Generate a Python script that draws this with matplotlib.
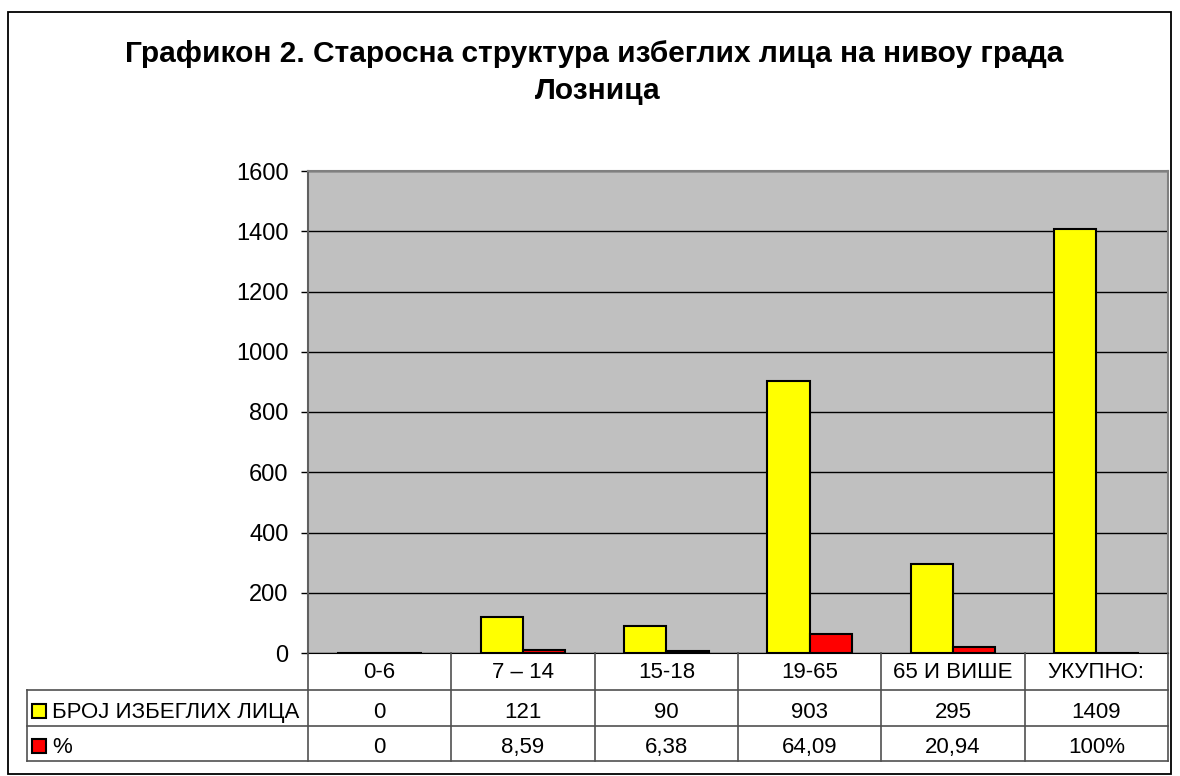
import matplotlib.pyplot as plt
from matplotlib.patches import Rectangle

plt.rcParams['font.family'] = ['Liberation Sans', 'DejaVu Sans']

categories = ['0-6', '7 – 14', '15-18', '19-65', '65 И ВИШЕ', 'УКУПНО:']
count_values = [0, 121, 90, 903, 295, 1409]
pct_values = [0, 8.59, 6.38, 64.09, 20.94, 1]
count_labels = ['0', '121', '90', '903', '295', '1409']
pct_labels = ['0', '8,59', '6,38', '64,09', '20,94', '100%']
series_names = ['БРОЈ ИЗБЕГЛИХ ЛИЦА', '%']
series_colors = ['#FFFF00', '#FF0000']
yticks = [0, 200, 400, 600, 800, 1000, 1200, 1400, 1600]

W, H = 1180, 776
fig = plt.figure(figsize=(W / 100, H / 100), dpi=100)
tc = fig.transFigure


def fx(px):
    return px / W


def fy(py):
    return 1 - py / H


# outer frame
fig.patches.append(Rectangle((fx(8), fy(774)), 1163 / W, 762 / H,
                             transform=tc, fill=False, edgecolor='black', lw=1.3))

fig.text(fx(594), fy(62), 'Графикон 2. Старосна структура избеглих лица на нивоу града',
         ha='center', va='baseline', fontsize=21.5, fontweight='bold')
fig.text(fx(598), fy(99), 'Лозница',
         ha='center', va='baseline', fontsize=21.5, fontweight='bold')

left, right, top, bottom = 308, 1168, 171, 653
ax = fig.add_axes([fx(left), fy(bottom), (right - left) / W, (bottom - top) / H])
ax.set_facecolor('#C0C0C0')

x = list(range(len(categories)))
bw = 0.295
ax.bar([i - bw / 2 for i in x], count_values, width=bw, color=series_colors[0],
       edgecolor='black', linewidth=1.5, zorder=3)
ax.bar([i + bw / 2 for i in x], pct_values, width=bw, color=series_colors[1],
       edgecolor='black', linewidth=1.5, zorder=3)

ax.set_xlim(-0.5, len(categories) - 0.5)
ax.set_ylim(0, 1600)
ax.set_yticks(yticks)
ax.set_yticklabels([str(v) for v in yticks], fontsize=17)
ax.yaxis.grid(True, color='black', lw=1, zorder=1)
ax.set_xticks([])
ax.tick_params(axis='y', length=5, width=1, pad=9, direction='out', colors='black')
for s in ['top', 'right']:
    ax.spines[s].set_color('#808080')
    ax.spines[s].set_linewidth(1.5)
ax.spines['bottom'].set_color('black')
ax.spines['left'].set_color('#606060')
ax.spines['left'].set_linewidth(1.5)

# data table under the plot
row_lines = [653, 690, 726, 761]
label_left = 27
col_edges = [left + (right - left) * i / len(categories) for i in range(len(categories) + 1)]


def line(x0, y0, x1, y1, c='#505050'):
    fig.lines.append(plt.Line2D([fx(x0), fx(x1)], [fy(y0), fy(y1)], transform=tc,
                                color=c, lw=1.2))


for yy in row_lines[1:]:
    line(label_left, yy, right, yy)
line(label_left, row_lines[1], label_left, row_lines[3])
for xx in col_edges:
    line(xx, row_lines[0], xx, row_lines[3])

baselines = [678, 718, 753]
for i, cat in enumerate(categories):
    cx = (col_edges[i] + col_edges[i + 1]) / 2
    for b, txt in zip(baselines, [cat, count_labels[i], pct_labels[i]]):
        fig.text(fx(cx), fy(b), txt, ha='center', va='baseline', fontsize=16)

for r, (name, col) in enumerate(zip(series_names, series_colors)):
    b = baselines[r + 1]
    fig.patches.append(Rectangle((fx(32), fy(b)), 14 / W, 14 / H, transform=tc,
                                 facecolor=col, edgecolor='black', lw=1.5))
    fig.text(fx(52), fy(b), name, ha='left', va='baseline', fontsize=16)

fig.savefig('out.png', dpi=100)
